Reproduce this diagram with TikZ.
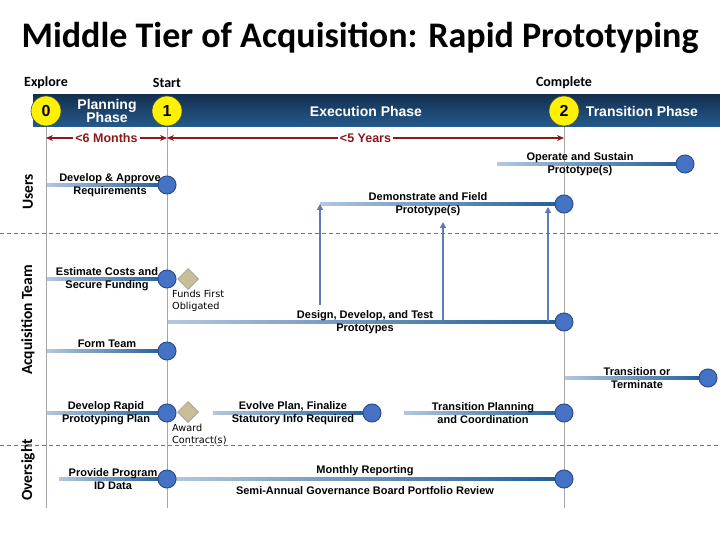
\documentclass[tikz,border=0pt]{standalone}
\usepackage{fontspec}
\setmainfont{Liberation Sans}
\newfontfamily\calfont{Carlito}
\newfontfamily\dvfont{DejaVu Sans}
\usetikzlibrary{arrows.meta,calc,shapes.geometric,backgrounds}
\definecolor{barTop}{HTML}{15304F}
\definecolor{barBot}{HTML}{255B8E}
\definecolor{tlL}{HTML}{B4C8E0}
\definecolor{tlR}{HTML}{1F5C96}
\definecolor{dotF}{HTML}{4472C4}
\definecolor{dotD}{HTML}{2F4F8A}
\definecolor{ylw}{HTML}{FFF200}
\definecolor{tan}{HTML}{C8BE98}
\definecolor{redC}{HTML}{8B1A1A}
\definecolor{arrC}{HTML}{5B7DB5}
\definecolor{dashC}{HTML}{6B7B8C}
\tikzset{
  dot/.style={circle,fill=dotF,draw=dotD,line width=1pt,minimum size=18pt,inner sep=0pt},
  phase/.style={circle,fill=ylw,draw=black!70,line width=0.6pt,minimum size=30pt,inner sep=0pt,font=\bfseries\fontsize{16}{16}\selectfont},
  gate/.style={diamond,fill=tan,draw=black!45,line width=0.5pt,minimum size=21pt,inner sep=0pt},
  task/.style={align=center,inner sep=0pt,font=\bfseries\fontsize{11}{13}\selectfont},
  small/.style={align=left,inner sep=0pt,anchor=north west,font=\dvfont\fontsize{9.7}{12}\selectfont},
  lane/.style={rotate=90,font=\calfont\bfseries\fontsize{15.5}{16}\selectfont},
  mile/.style={font=\calfont\bfseries\fontsize{14}{15}\selectfont},
  bartxt/.style={text=white,align=center,font=\bfseries\fontsize{14}{14}\selectfont},
  grayline/.style={draw=black!35,line width=0.8pt},
  dashline/.style={draw=dashC,line width=0.8pt,dash pattern=on 4pt off 3pt},
  redarr/.style={draw=redC,line width=1.8pt,{Stealth[length=7pt,width=6pt]}-{Stealth[length=7pt,width=6pt]}},
  redtxt/.style={fill=white,inner sep=2pt,text=redC,font=\bfseries\fontsize{12.5}{13}\selectfont},
  uparr/.style={draw=arrC,line width=1.8pt,-{Triangle[length=6pt,width=6pt]}}
}
\newcommand\tline[2]{\shade[left color=tlL,right color=tlR] ($(#1)+(0,-1.5)$) rectangle ($(#2.center)+(0,1.5)$);}
\begin{document}
\begin{tikzpicture}[x=1pt,y=-1pt]
\useasboundingbox (0,0) rectangle (720,540);

% title
\node[font=\calfont\bfseries\fontsize{36}{38}\selectfont] (title) at (360,38) {Middle Tier of Acquisition: Rapid Prototyping};

% lane labels
\node[lane] (lu) at (28,192) {Users};
\node[lane] (la) at (28,320) {Acquisition Team};
\node[lane] (lo) at (28,470) {Oversight};

% dashed lane separators
\coordinate (d1a) at (0,233); \coordinate (d1b) at (720,233);
\coordinate (d2a) at (0,445); \coordinate (d2b) at (720,445);
\draw[dashline] (d1a) -- (d1b);
\draw[dashline] (d2a) -- (d2b);

% vertical gray lines
\coordinate (v0t) at (46,127); \coordinate (v0b) at (46,508);
\coordinate (v1t) at (167,127); \coordinate (v1b) at (167,508);
\coordinate (v2t) at (564,127); \coordinate (v2b) at (564,508);
\draw[grayline] (v0t) -- (v0b);
\draw[grayline] (v1t) -- (v1b);
\draw[grayline] (v2t) -- (v2b);

% banner
\shade[top color=barTop,bottom color=barBot] (33,95) rectangle (720,127);
\node[mile] (explore) at (46,83) {Explore};
\node[mile] (start) at (167,83) {Start};
\node[mile] (complete) at (564,83) {Complete};
\node[phase] (p0) at (46,111) {0};
\node[phase] (p1) at (167,111) {1};
\node[phase] (p2) at (564,111) {2};
\node[bartxt] (plan) at (107,111) {Planning\\[-1pt]Phase};
\node[bartxt] (exec) at (366,111) {Execution Phase};
\node[bartxt] (trans) at (642,111) {Transition Phase};

% durations
\coordinate (r0) at (46,138); \coordinate (r1) at (167,138); \coordinate (r2) at (564,138);
\draw[redarr] (r0) -- (r1) node[midway,redtxt] {<6 Months};
\draw[redarr] (r1) -- (r2) node[midway,redtxt] {<5 Years};

% task dots
\node[dot] (t1) at (167,185) {};
\node[dot] (t2) at (564,204) {};
\node[dot] (t3) at (685,164) {};
\node[dot] (t4) at (167,279) {};
\node[dot] (t5) at (564,322) {};
\node[dot] (t6) at (167,351) {};
\node[dot] (t7) at (708,378) {};
\node[dot] (t8) at (167,413) {};
\node[dot] (t9) at (372,413) {};
\node[dot] (t10) at (564,413) {};
\node[dot] (t11) at (167,479) {};
\node[dot] (t12) at (564,479) {};

% gates
\node[gate] (g1) at (188,279) {};
\node[gate] (g2) at (188,412) {};
\node[small] (g1t) at (172,290) {Funds First\\Obligated};
\node[small] (g2t) at (172,424) {Award\\Contract(s)};

% line starts
\coordinate (s1) at (46,185);
\coordinate (s2) at (320,204);
\coordinate (s3) at (497,164);
\coordinate (s4) at (46,279);
\coordinate (s5) at (167,322);
\coordinate (s6) at (46,351);
\coordinate (s7) at (564,378);
\coordinate (s8) at (46,413);
\coordinate (s9) at (213,413);
\coordinate (s10) at (404,413);
\coordinate (s11) at (59,479);
\coordinate (s12) at (167,479);

\begin{scope}[on background layer]
\fill[white] (0,0) rectangle (720,540);
\tline{s1}{t1}
\tline{s2}{t2}
\tline{s3}{t3}
\tline{s4}{t4}
\tline{s5}{t5}
\tline{s6}{t6}
\tline{s7}{t7}
\tline{s8}{t8}
\tline{s9}{t9}
\tline{s10}{t10}
\tline{s11}{t11}
\tline{s12}{t12}
\end{scope}

% task labels
\node[task] (l1) at (110,185) {Develop \& Approve\\Requirements};
\node[task] (l2) at (428,204) {Demonstrate and Field\\Prototype(s)};
\node[task] (l3) at (580,164) {Operate and Sustain\\Prototype(s)};
\node[task] (l4) at (107,279) {Estimate Costs and\\Secure Funding};
\node[task] (l5) at (365,322) {Design, Develop, and Test\\Prototypes};
\node[task] (l6) at (107,344) {Form Team};
\node[task] (l7) at (637,378) {Transition or\\Terminate};
\node[task] (l8) at (106,413) {Develop Rapid\\Prototyping Plan};
\node[task] (l9) at (293,413) {Evolve Plan, Finalize\\Statutory Info Required};
\node[task] (l10) at (483,413) {Transition Planning\\and Coordination};
\node[task] (l11) at (113,479) {Provide Program\\ID Data};
\node[task] (l12) at (365,471) {Monthly Reporting};
\node[task] (l13) at (365,491) {Semi-Annual Governance Board Portfolio Review};

% up arrows
\coordinate (a1b) at (320,305); \coordinate (a1t) at (320,204);
\coordinate (a2b) at (443,322); \coordinate (a2t) at (443,222);
\coordinate (a3b) at (548,322); \coordinate (a3t) at (548,207);
\draw[uparr] (a1b) -- (a1t);
\draw[uparr] (a2b) -- (a2t);
\draw[uparr] (a3b) -- (a3t);
\end{tikzpicture}
\end{document}
